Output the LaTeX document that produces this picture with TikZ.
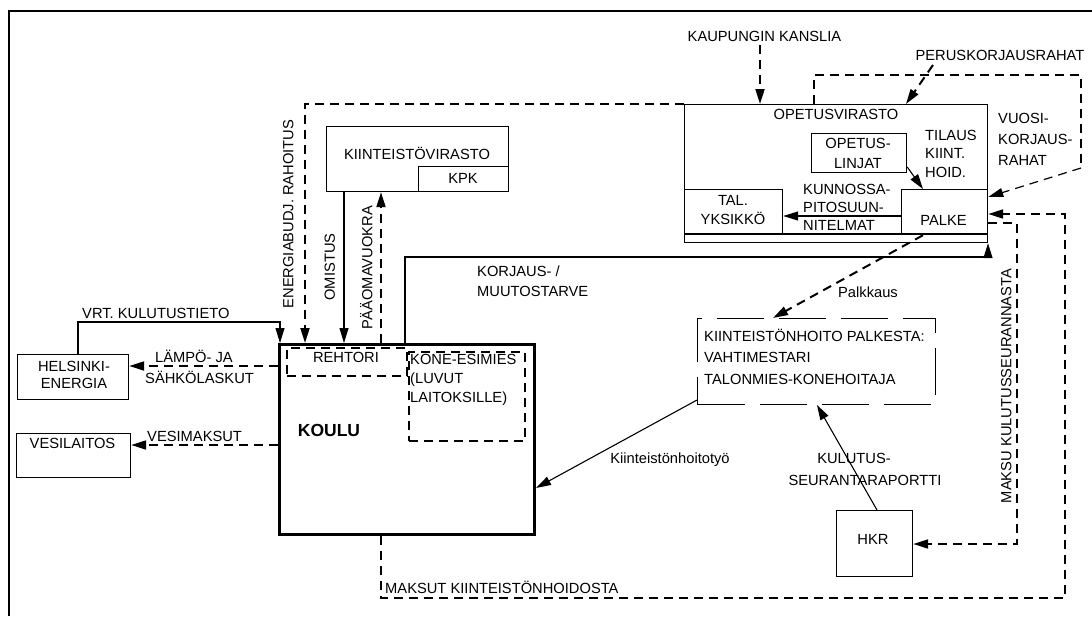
\documentclass[tikz,border=0pt]{standalone}
\usepackage{fontspec}
\setmainfont{Liberation Sans}
\usetikzlibrary{arrows.meta,calc}
\begin{document}
\begin{tikzpicture}[x=1pt,y=-1pt,
  >={Triangle[length=15pt,width=9pt]},
  lbl/.style={font=\fontsize{14.7}{18}\selectfont, inner sep=0pt, text height=10.6pt, text depth=0pt},
  mlbl/.style={font=\fontsize{14.7}{#1}\selectfont, inner sep=0pt},
  mlbl/.default=19,
  box/.style={draw, line width=1.2pt, inner sep=0pt, anchor=north west},
  dbox/.style={draw, line width=2pt, dash pattern=on 9pt off 6pt, inner sep=0pt, anchor=north west},
  solid line/.style={line width=1.1pt},
  dash line/.style={line width=2pt, dash pattern=on 9pt off 6pt},
  thin dash/.style={line width=1.2pt, dash pattern=on 9pt off 6pt},
]
\useasboundingbox (0,0) rectangle (1092,616);
\fill[white] (0,0) rectangle (1092,616);

% outer frame
\draw[line width=2.5pt] (9,616) -- (9,11) -- (1092,11);

% ---------- boxes ----------
\node[box, minimum width=182pt, minimum height=65pt] (kv) at (326,126) {};
\node[box, minimum width=90pt, minimum height=25pt] (kpk) at (418,166) {};
\node[box, minimum width=303pt, minimum height=138pt] (ov) at (684,104) {};
\draw[line width=1.2pt] (ov.west |- 0,234) -- (ov.east |- 0,234);
\node[box, minimum width=98pt, minimum height=45pt] (tal) at (684,189) {};
\node[box, minimum width=86pt, minimum height=45pt] (palke) at (901,189) {};
\node[box, minimum width=95pt, minimum height=39pt] (ol) at (811,133) {};
\node[box, line width=3pt, minimum width=255pt, minimum height=190pt] (koulu) at (278,343) {};
\node[dbox, minimum width=120pt, minimum height=28pt] (reh) at (286,347) {};
\node[dbox, minimum width=116pt, minimum height=89pt] (kone) at (408,351) {};
\node[box, minimum width=111pt, minimum height=45pt] (he) at (17,354) {};
\node[box, minimum width=114pt, minimum height=44pt] (vesi) at (16,433) {};
\node[draw, line width=1pt, dash pattern=on 47pt off 15pt, inner sep=0pt, anchor=north west,
      minimum width=238pt, minimum height=86pt] (kh) at (697,318) {};
\node[box, minimum width=76pt, minimum height=66pt] (hkr) at (836,510) {};

% ---------- texts ----------
\node[lbl] (tkv) at (417,154) {KIINTEISTÖVIRASTO};
\node[lbl] (tkpk) at (463,178.5) {KPK};
\node[lbl] (tov) at (836,114) {OPETUSVIRASTO};
\node[mlbl=20, align=center] (tol) at (858,153) {OPETUS-\\LINJAT};
\node[mlbl=18.5, align=left, anchor=west] (ttil) at (925,153.5) {TILAUS\\KIINT.\\HOID.};
\node[mlbl=18, align=left, anchor=west] (tkun) at (803,207) {KUNNOSSA-\\PITOSUUN-\\NITELMAT};
\node[mlbl=19.5, align=center] (ttal) at (733,210) {TAL.\\YKSIKKÖ};
\node[lbl] (tpalke) at (943.5,220) {PALKE};
\node[mlbl=21, align=left, anchor=west] (tvuo) at (998,139) {VUOSI-\\KORJAUS-\\RAHAT};
\node[lbl] (tper) at (1000,55) {PERUSKORJAUSRAHAT};
\node[lbl] (tkau) at (764.5,36) {KAUPUNGIN KANSLIA};
\node[mlbl=20, align=left, anchor=west] (tkor) at (477,281) {KORJAUS- /\\MUUTOSTARVE};
\node[lbl] (tpalk) at (868,292) {Palkkaus};
\node[mlbl=21.5, align=left, anchor=west] (tkh) at (704,356.5) {KIINTEISTÖNHOITO PALKESTA:\\VAHTIMESTARI\\TALONMIES-KONEHOITAJA};
\node[lbl] (tkht) at (670,458) {Kiinteistönhoitotyö};
\node[lbl] (tkul) at (854,458) {KULUTUS-};
\node[lbl] (tseu) at (865,480) {SEURANTARAPORTTI};
\node[lbl] (thkr) at (873,539) {HKR};
\node[lbl, rotate=90] (tmku) at (1006,386) {MAKSU KULUTUSSEURANNASTA};
\node[lbl, anchor=west] (tmak) at (385,588) {MAKSUT KIINTEISTÖNHOIDOSTA};
\node[font=\fontsize{17.5}{20}\selectfont\bfseries, inner sep=0pt] (tkoulu) at (329,430) {KOULU};
\node[lbl] (treh) at (346,357.5) {REHTORI};
\node[mlbl=19, align=left, anchor=west] (tkone) at (410,380) {KONE-ESIMIES\\(LUVUT\\LAITOKSILLE)};
\node[mlbl=17.5, align=center] (the) at (74,375) {HELSINKI-\\ENERGIA};
\node[lbl, anchor=west] (tlam) at (155,357) {LÄMPÖ- JA};
\node[lbl, anchor=west] (tsah) at (145,378) {SÄHKÖLASKUT};
\node[lbl] (tvesi) at (72.5,443) {VESILAITOS};
\node[lbl, anchor=west] (tvm) at (147,436) {VESIMAKSUT};
\node[lbl, anchor=west] (tvrt) at (82,313) {VRT. KULUTUSTIETO};
\node[lbl, rotate=90] (tene) at (288,214) {ENERGIABUDJ. RAHOITUS};
\node[lbl, rotate=90] (tomi) at (329.5,267) {OMISTUS};
\node[lbl, rotate=90] (tpaa) at (367,268) {PÄÄOMAVUOKRA};

% ---------- bend points ----------
\coordinate (vrt1) at (78,322);
\coordinate (vrt2) at (280,322);
\coordinate (en1) at (305,104);
\coordinate (kor1) at (405,257);
\coordinate (kor2) at (988,257);
\coordinate (kau) at (760,45);
\coordinate (per) at (933,65);
\coordinate (vu1) at (814,75);
\coordinate (vu2) at (1081,75);
\coordinate (vu3) at (1081,168);
\coordinate (mk1) at (1017,223);
\coordinate (mk2) at (1017,544);
\coordinate (ma1) at (381,598);
\coordinate (ma2) at (1065,598);
\coordinate (ma3) at (1065,214);

% ---------- connectors ----------
\draw[solid line,->] (he.north -| vrt1) -- (vrt1) -- (vrt2) -- (koulu.north -| vrt2);
\draw[dash line,->] (koulu.west |- 0,366) -- (he.east |- 0,366);
\draw[dash line,->] (koulu.west |- 0,445) -- (vesi.east |- 0,445);
\draw[dash line,->] (ov.north west) -- (en1) -- (koulu.north -| en1);
\draw[solid line,->] (kv.south -| 344,0) -- (koulu.north -| 344,0);
\draw[dash line,->] (koulu.north -| 381,0) -- (kv.south -| 381,0);
\draw[solid line,->] (koulu.north -| kor1) -- (kor1) -- (kor2) -- (ov.south -| kor2);
\draw[dash line,->] (kau) -- (ov.north -| kau);
\draw[dash line,->] (per) -- (ov.north -| 906,0);
\draw[dash line] (ov.north -| vu1) -- (vu1) -- (vu2) -- (vu3);
\draw[thin dash,->] (vu3) -- (palke.east |- 0,197);
\draw[solid line,->] (ol.east |- 0,167) -- (palke.north -| 923,0);
\draw[solid line,->] (palke.west |- 0,216) -- (tal.east |- 0,216);
\draw[dash line,->] (palke.south -| 923,0) -- (kh.north -| 773,0);
\draw[solid line,->] (kh.west |- 0,400) -- (koulu.east |- 0,488);
\draw[solid line,->] (hkr.north -| 877,0) -- (kh.south -| 817,0);
\draw[dash line,->] (palke.east |- mk1) -- (mk1) -- (mk2) -- (hkr.east |- mk2);
\draw[dash line,->] (koulu.south -| ma1) -- (ma1) -- (ma2) -- (ma3) -- (palke.east |- ma3);
\end{tikzpicture}
\end{document}
